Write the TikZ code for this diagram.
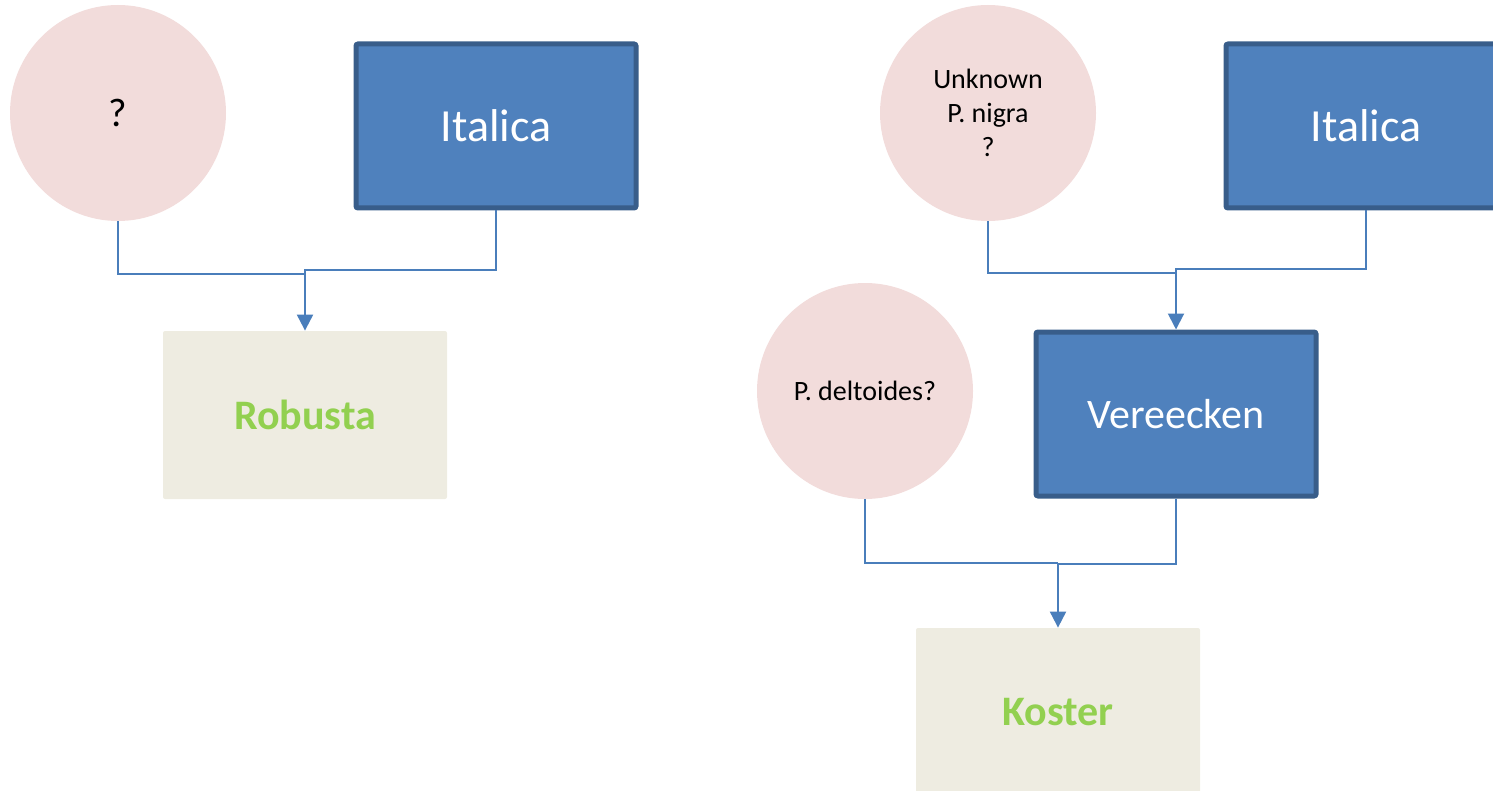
\documentclass[tikz,border=0pt]{standalone}
\usepackage{fontspec}
\setmainfont{Carlito}
\usetikzlibrary{arrows.meta}

\definecolor{boxBlue}{HTML}{4F81BD}
\definecolor{boxEdge}{HTML}{385D8A}
\definecolor{pinkFill}{HTML}{F2DCDB}
\definecolor{sandFill}{HTML}{EEECE1}
\definecolor{leafGreen}{HTML}{92D050}
\definecolor{linkBlue}{HTML}{4A7EBB}

\tikzset{
	parentBox/.style = {draw = boxEdge, line width = 2.5pt, fill = boxBlue, rounded corners = 1pt,
		minimum width = 140pt, minimum height = 82pt, text = white, font = \fontsize{23}{28}\selectfont},
	unknownParent/.style = {circle, fill = pinkFill, minimum size = 108pt, inner sep = 0pt,
		align = center, font = \fontsize{14}{17}\selectfont},
	cloneBox/.style = {fill = sandFill, rounded corners = 1pt, minimum width = 142pt, minimum height = 84pt,
		text = leafGreen, font = \fontsize{21}{25}\selectfont\bfseries},
	link/.style = {draw = linkBlue, line width = 1pt},
	arrowLink/.style = {link, -{Triangle[length = 8pt, width = 8pt]}}
}

\begin{document}
\begin{tikzpicture}[x = 0.5pt, y = -0.5pt]

	\useasboundingbox (0, 0) rectangle (1493, 791);

	% left tree
	\node[unknownParent, font = \fontsize{20}{24}\selectfont] (qmark) at (118, 113) {?};
	\node[parentBox] (italicaA) at (496, 126) {Italica};
	\node[cloneBox] (robusta) at (305, 415) {Robusta};

	\coordinate (joinA) at (305, 274);
	\draw[link] (qmark.south) |- (joinA);
	\draw[arrowLink] (italicaA.south) -- ++(0, 60) -| (robusta.north);

	% right tree
	\node[unknownParent] (nigra) at (988, 113) {Unknown\\P. nigra\\?};
	\node[parentBox] (italicaB) at (1366, 126) {Italica};
	\node[parentBox, font = \fontsize{21}{25}\selectfont] (vereecken) at (1176, 414) {Vereecken};

	\coordinate (joinB) at (1176, 273);
	\draw[link] (nigra.south) |- (joinB);
	\draw[arrowLink] (italicaB.south) -- ++(0, 59) -| (vereecken.north);

	\node[unknownParent] (deltoides) at (865, 391) {P. deltoides?};
	\node[cloneBox] (koster) at (1058, 712) {Koster};

	\coordinate (joinC) at (1058, 563);
	\draw[link] (deltoides.south) |- (joinC);
	\draw[arrowLink] (vereecken.south) -- ++(0, 65) -| (koster.north);

\end{tikzpicture}
\end{document}
